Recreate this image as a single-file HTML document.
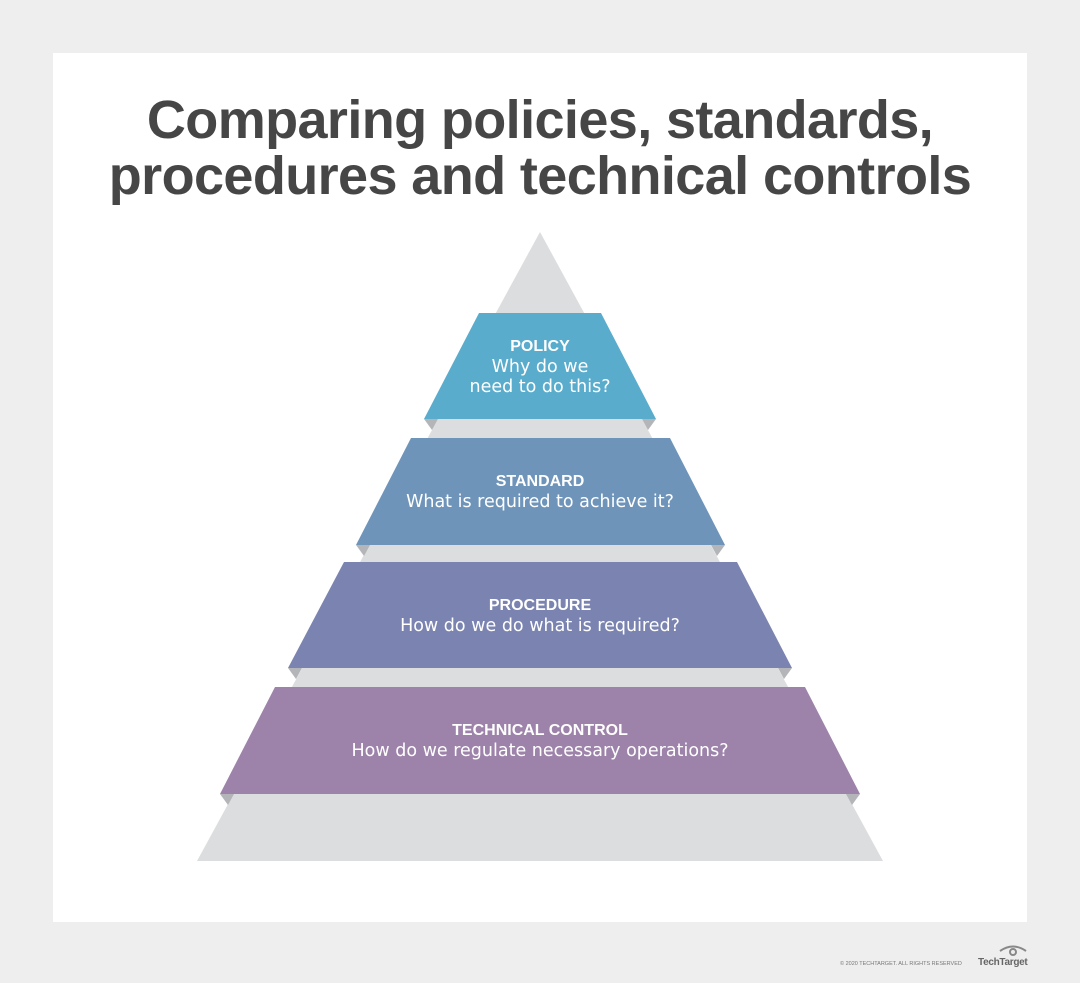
<!DOCTYPE html>
<html><head><meta charset="utf-8"><style>
html,body{margin:0;padding:0;}
body{width:1080px;height:983px;background:#eeeeee;position:relative;overflow:hidden;font-family:"Liberation Sans",sans-serif;}
.panel{position:absolute;left:53px;top:53px;width:974px;height:869px;background:#fff;}
h1{position:absolute;left:0;width:1080px;top:92px;margin:0;text-align:center;font-size:54px;line-height:56px;color:#464646;font-weight:bold;letter-spacing:-0.6px;}
.t{position:absolute;width:600px;text-align:center;color:#fff;font-family:"DejaVu Sans",sans-serif;font-size:17.5px;line-height:20px;}
.t b{font-family:"Liberation Sans",sans-serif;font-size:16px;}
.foot{position:absolute;left:840px;top:961px;font-size:5.5px;color:#777;}
.tt{position:absolute;left:978px;top:957px;font-size:10px;font-weight:bold;color:#666;letter-spacing:-0.3px;}
</style></head><body>
<div class="panel"></div>
<h1>Comparing policies, standards,<br>procedures and technical controls</h1>
<svg width="1080" height="983" style="position:absolute;left:0;top:0">
<polygon points="540,232 883,861 197,861" fill="#dcdddf"/>
<g fill="#b4b5b8">
<polygon points="424,419 438,419 432,430"/><polygon points="656,419 642,419 648,430"/>
<polygon points="356,545 370,545 364,556"/><polygon points="725,545 711,545 717,556"/>
<polygon points="288,668 302,668 296,679"/><polygon points="792,668 778,668 784,679"/>
<polygon points="220,794 234,794 228,805"/><polygon points="860,794 846,794 852,805"/>
</g>
<polygon points="479,313 601,313 656,419 424,419" fill="#5aaccd"/>
<polygon points="411,438 670,438 725,545 356,545" fill="#6f94ba"/>
<polygon points="344,562 737,562 792,668 288,668" fill="#7b84b0"/>
<polygon points="275,687 805,687 860,794 220,794" fill="#9d82aa"/>
<g fill="none" stroke="#888" stroke-width="2"><path d="M1000,951 q13,-9 26,0"/><circle cx="1013" cy="952" r="3"/></g>
</svg>
<div class="t" style="left:240px;top:336px"><b>POLICY</b><br>Why do we<br>need to do this?</div>
<div class="t" style="left:240px;top:471px"><b>STANDARD</b><br>What is required to achieve it?</div>
<div class="t" style="left:240px;top:595px"><b>PROCEDURE</b><br>How do we do what is required?</div>
<div class="t" style="left:240px;top:720px"><b>TECHNICAL CONTROL</b><br>How do we regulate necessary operations?</div>
<div class="foot">© 2020 TECHTARGET. ALL RIGHTS RESERVED</div>
<div class="tt">TechTarget</div>
</body></html>
